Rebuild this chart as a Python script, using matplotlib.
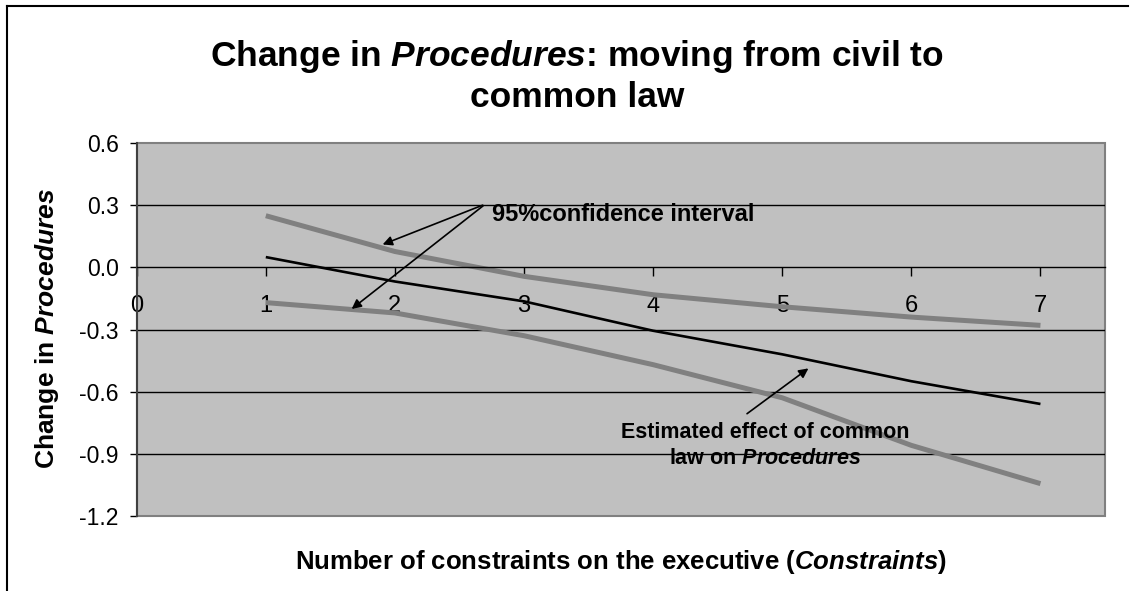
import numpy as np
import matplotlib
matplotlib.use('Agg')
import matplotlib.pyplot as plt
from matplotlib.patches import Rectangle

plt.rcParams['font.family'] = ['Liberation Sans', 'DejaVu Sans']
plt.rcParams['mathtext.fontset'] = 'custom'
plt.rcParams['mathtext.it'] = 'Liberation Sans:italic:bold'
plt.rcParams['mathtext.rm'] = 'Liberation Sans:bold'
plt.rcParams['mathtext.bf'] = 'Liberation Sans:bold'
plt.rcParams['axes.unicode_minus'] = False

# data
constraints = [1, 2, 3, 4, 5, 6, 7]
estimate = [0.05, -0.068, -0.164, -0.306, -0.42, -0.55, -0.66]
upper_ci = [0.25, 0.077, -0.043, -0.132, -0.19, -0.24, -0.28]
lower_ci = [-0.17, -0.22, -0.33, -0.47, -0.63, -0.86, -1.045]
yticks = [0.6, 0.3, 0.0, -0.3, -0.6, -0.9, -1.2]
xticks = [0, 1, 2, 3, 4, 5, 6, 7]

W, H = 1133, 591
fig = plt.figure(figsize=(W / 100, H / 100), dpi=100)
ax = fig.add_axes([136.7 / W, 1 - 515.7 / H, (1105 - 136.7) / W, (515.7 - 143.3) / H])
ax.set_facecolor('#C0C0C0')

# grid lines
for g in [0.3, -0.3, -0.6, -0.9]:
    ax.axhline(g, color='black', lw=1.0, zorder=1)

ax.plot(constraints, upper_ci, color='#808080', lw=3.6, zorder=2, solid_capstyle='butt')
ax.plot(constraints, lower_ci, color='#808080', lw=3.6, zorder=2, solid_capstyle='butt')
ax.plot(constraints, estimate, color='black', lw=1.9, zorder=3, solid_capstyle='butt')

ax.set_xlim(0, 7.5)
ax.set_ylim(-1.2, 0.6)
ax.set_yticks(yticks)
ax.set_yticklabels(['%.1f' % v for v in yticks])
ax.set_xticks(xticks)
ax.set_xticklabels([str(v) for v in xticks])

# x axis crosses at zero
ax.spines['bottom'].set_position(('data', 0))
ax.spines['bottom'].set_color('black')
ax.spines['bottom'].set_linewidth(1.0)
for s in ['top', 'right']:
    ax.spines[s].set_visible(False)
ax.spines['left'].set_color('#404040')
ax.spines['left'].set_linewidth(1.5)
ax.add_patch(Rectangle((0, 0), 1, 1, transform=ax.transAxes, fill=False,
                       edgecolor='#808080', lw=1.5, zorder=0.5, clip_on=False))

ax.tick_params(axis='x', direction='out', length=6.5, width=1.0, pad=13,
               labelsize=17, colors='black')
ax.tick_params(axis='y', direction='out', length=5, width=1.0, pad=8,
               labelsize=16.5, colors='black')

# annotations
tail = (2.70, 0.306)
ax.annotate('', xy=(1.885, 0.106), xytext=tail,
            arrowprops=dict(arrowstyle='-|>', color='black', lw=1.2, mutation_scale=14))
ax.annotate('', xy=(1.648, -0.209), xytext=tail,
            arrowprops=dict(arrowstyle='-|>', color='black', lw=1.2, mutation_scale=14))
ax.text(2.753, 0.255, '95%confidence interval', fontsize=17, fontweight='bold',
        ha='left', va='center')

ax.annotate('', xy=(5.22, -0.48), xytext=(4.71, -0.715),
            arrowprops=dict(arrowstyle='-|>', color='black', lw=1.2, mutation_scale=14))
ax.text(4.87, -0.86, 'Estimated effect of common\nlaw on $\\mathit{Procedures}$',
        fontsize=15.5, fontweight='bold', ha='center', va='center', linespacing=1.35)

# titles
fig.text(577 / W, 1 - 76 / H,
         'Change in $\\mathit{Procedures}$: moving from civil to\ncommon law',
         fontsize=25.5, fontweight='bold', ha='center', va='center', linespacing=1.25)
fig.text(621 / W, 1 - 562 / H,
         'Number of constraints on the executive ($\\mathit{Constraints}$)',
         fontsize=18.5, fontweight='bold', ha='center', va='center')
fig.text(47 / W, 1 - 328 / H, 'Change in $\\mathit{Procedures}$',
         fontsize=19, fontweight='bold', ha='center', va='center', rotation=90)

# outer chart frame (only top and left edges visible)
fig.add_artist(plt.Line2D([7 / W, 1128 / W], [1 - 6 / H, 1 - 6 / H],
                          color='black', lw=1.5, transform=fig.transFigure))
fig.add_artist(plt.Line2D([7 / W, 7 / W], [1 - 6 / H, 0], color='black', lw=1.5,
                          transform=fig.transFigure))

fig.savefig('out.png', dpi=100)
